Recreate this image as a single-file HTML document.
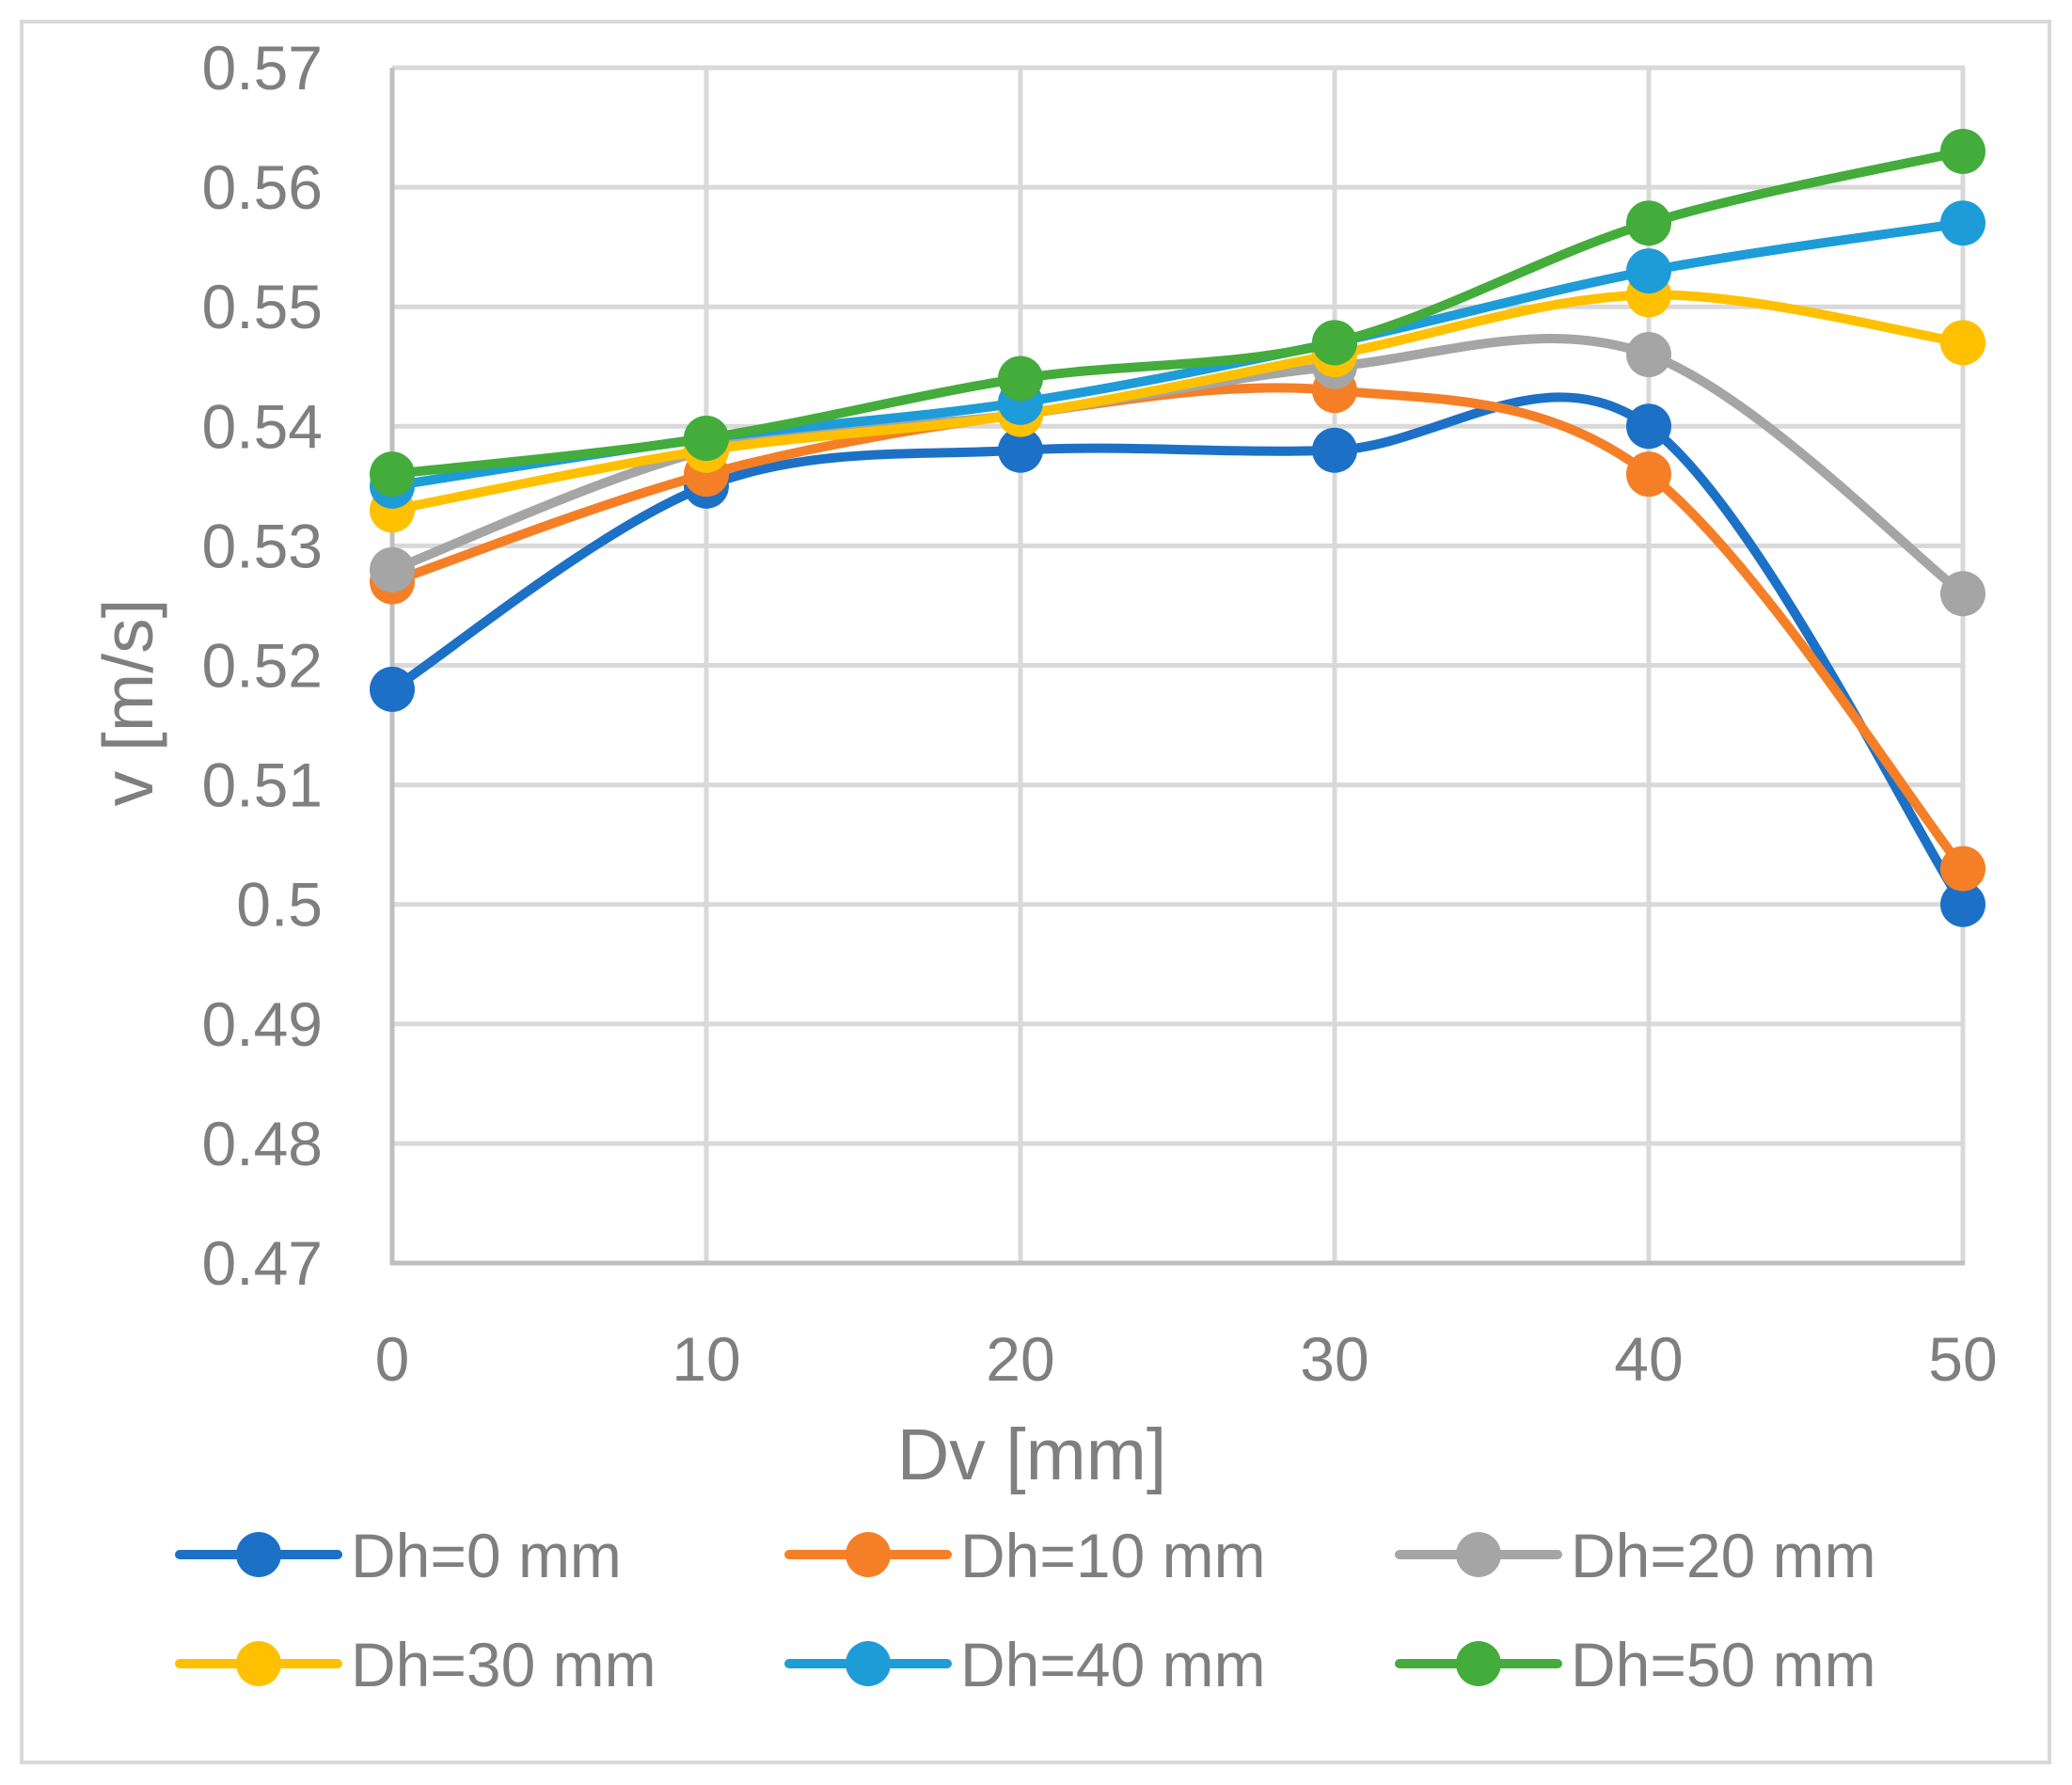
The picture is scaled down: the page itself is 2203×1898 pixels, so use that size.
<!DOCTYPE html>
<html><head><meta charset="utf-8"><style>
html,body{margin:0;padding:0;background:#fff;}
svg{display:block;}
text{font-family:"Liberation Sans",sans-serif;fill:#7f7f7f;}
</style></head><body>
<svg id="s" width="2203" height="1898" viewBox="0 0 2203 1898" xmlns="http://www.w3.org/2000/svg">
<rect x="0" y="0" width="2203" height="1898" fill="#fff"/>
<rect x="23" y="23" width="2156" height="1851" fill="none" stroke="#d9d9d9" stroke-width="4"/>
<g id="grid" stroke="#d9d9d9" stroke-width="5"></g>
<g id="axes" stroke="#bfbfbf" stroke-width="5">
<line x1="417" y1="72" x2="417" y2="1345"/>
<line x1="415" y1="1343" x2="2089" y2="1343"/>
</g>
<g id="ylab" font-size="66" text-anchor="end"></g>
<g id="xlab" font-size="66" text-anchor="middle"></g>
<text x="1097" y="1573" font-size="77" text-anchor="middle">Dv [mm]</text>
<text transform="translate(162,747) rotate(-90)" font-size="75" text-anchor="middle">v [m/s]</text>
<g id="series"></g>
<g id="legend" font-size="66"></g>
</svg>
<script>
var X0=417,DX=334,Y0=72,DY=127.1;
function px(i){return X0+i*DX;}
function py(v){return Y0+(0.57-v)*100*DY;}
var ns="http://www.w3.org/2000/svg";
function el(p,t,a,txt){var e=document.createElementNS(ns,t);for(var k in a)e.setAttribute(k,a[k]);if(txt!==undefined)e.textContent=txt;document.getElementById(p).appendChild(e);return e;}
var ylabels=["0.57","0.56","0.55","0.54","0.53","0.52","0.51","0.5","0.49","0.48","0.47"];
for(var i=0;i<=10;i++){var y=Y0+i*DY;
 if(i<10)el("grid","line",{x1:417,y1:y,x2:2089,y2:y});
 el("ylab","text",{x:343,y:y+23},ylabels[i]);}
for(var j=0;j<=5;j++){var x=px(j);
 if(j>0)el("grid","line",{x1:x,y1:72,x2:x,y2:1343});
 el("xlab","text",{x:x,y:1468},String(j*10));}
var S=[
 ["#1c71c6",[.518,.535,.538,.538,.540,.500],"Dh=0 mm"],
 ["#f57f27",[.527,.536,.541,.543,.536,.503],"Dh=10 mm"],
 ["#a5a5a5",[.528,.538,.541,.545,.546,.526],"Dh=20 mm"],
 ["#ffc000",[.533,.538,.541,.546,.551,.547],"Dh=30 mm"],
 ["#1e9cd8",[.535,.539,.542,.547,.553,.557],"Dh=40 mm"],
 ["#43ac3b",[.536,.539,.544,.547,.557,.563],"Dh=50 mm"]];
S.forEach(function(s){
 var P=s[1].map(function(v,i){return [px(i),py(v)];});
 var d="M"+P[0][0]+","+P[0][1];
 for(var i=0;i<P.length-1;i++){
  var p0=P[i>0?i-1:i],p1=P[i],p2=P[i+1],p3=P[i+2<P.length?i+2:i+1];
  var c1=[p1[0]+(p2[0]-p0[0])/6,p1[1]+(p2[1]-p0[1])/6];
  var c2=[p2[0]-(p3[0]-p1[0])/6,p2[1]-(p3[1]-p1[1])/6];
  d+=" C"+c1+" "+c2+" "+p2;}
 el("series","path",{d:d,fill:"none",stroke:s[0],"stroke-width":10,"stroke-linecap":"round"});
 P.forEach(function(p){el("series","circle",{cx:p[0],cy:p[1],r:24,fill:s[0]});});
});
var LX=[275,923,1572],LY=[1653,1769];
S.forEach(function(s,i){var cx=LX[i%3],cy=LY[Math.floor(i/3)];
 el("legend","line",{x1:cx-84,y1:cy,x2:cx+84,y2:cy,stroke:s[0],"stroke-width":10,"stroke-linecap":"round"});
 el("legend","circle",{cx:cx,cy:cy,r:24,fill:s[0]});
 el("legend","text",{x:cx+98,y:cy+24},s[2]);});
</script>
</body></html>
